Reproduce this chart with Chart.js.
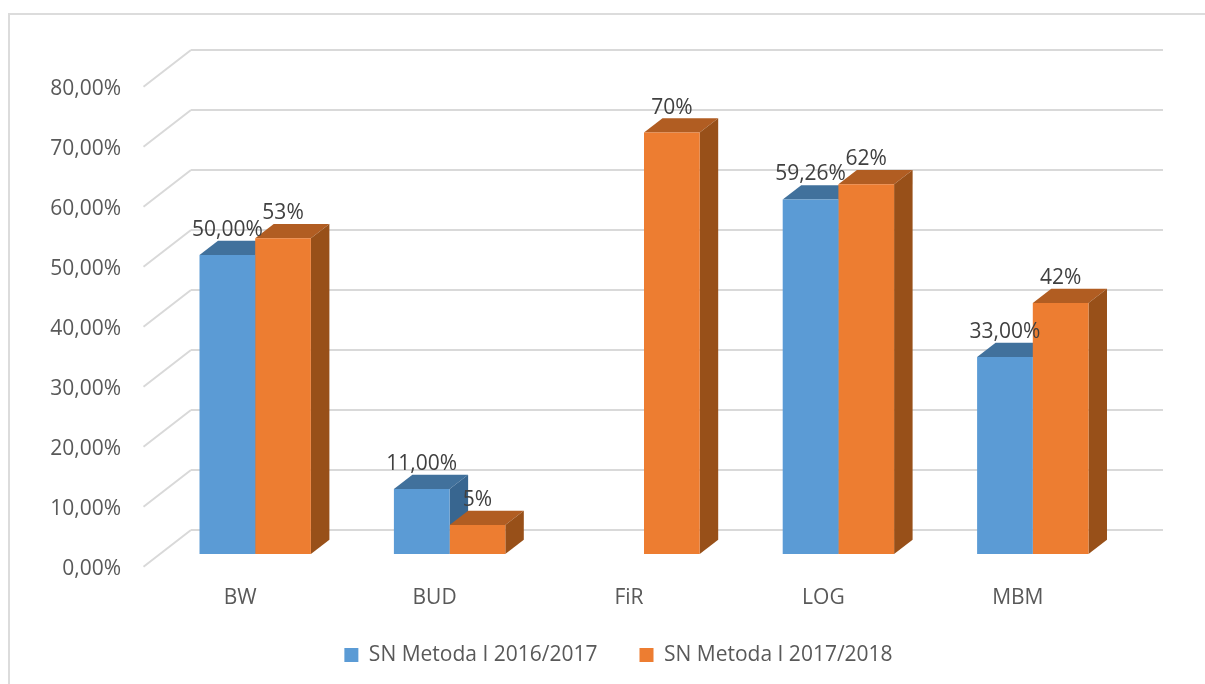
<!DOCTYPE html>
<html>
<head>
<meta charset="utf-8">
<title>SN Metoda I</title>
<script src="https://cdn.jsdelivr.net/npm/chart.js@4"></script>
<style>
    body { margin: 0; background: #fff; }
    #frame { position: absolute; left: 8px; top: 13px; right: 0; bottom: 0; border-left: 2px solid #dcdcdc; border-top: 2px solid #dcdcdc; }
    #chart { position: absolute; left: 0; top: 0; }
</style>
</head>
<body>
<div id="frame"></div>
<canvas id="chart" width="1205" height="684"></canvas>
<script>
const categories = ['BW', 'BUD', 'FiR', 'LOG', 'MBM'];
const series2016 = [50, 11, null, 59.26, 33];
const series2017 = [52.8, 5, 70.4, 61.8, 42];
const seriesNames = ['SN Metoda I 2016/2017', 'SN Metoda I 2017/2018'];

const FONT = '"Open Sans", sans-serif';
const frontColors = ['#5B9BD5', '#ED7D31'];
const topColors = ['#41719C', '#B15D22'];
const sideColors = ['#386690', '#985019'];

// wall corner and bar plane offsets, the 3D look is only painted on
const wallDx = 47.5, wallDy = 36.7;
const barShiftX = -33, barShiftY = 25;
const depthX = 18.5, depthY = 14.3;

function polygon(ctx, color, points) {
    ctx.fillStyle = color;
    ctx.beginPath();
    points.forEach((p, i) => i ? ctx.lineTo(p[0], p[1]) : ctx.moveTo(p[0], p[1]));
    ctx.closePath();
    ctx.fill();
}

function percent2(v) {
    return v.toFixed(2).replace('.', ',') + '%';
}

const labelFormats = [percent2, v => Math.round(v) + '%'];

const fake3d = {
    id: 'fake3d',
    beforeLayout(chart) {
        // legend padding is the item gap too, so keep its box short
        chart.legend.afterFit = function () { this.height = 70; };
    },
    afterLayout(chart) {
        const legend = chart.legend;
        legend.top = 602.5;
        legend.left += 17;
        legend.right += 17;
    },
    beforeDatasetsDraw(chart) {
        const ctx = chart.ctx;
        const left = chart.chartArea.left;
        const yScale = chart.scales.y;

        // left wall lines
        ctx.save();
        ctx.strokeStyle = '#d9d9d9';
        ctx.lineWidth = 2;
        yScale.ticks.forEach(t => {
            const y = yScale.getPixelForValue(t.value);
            ctx.beginPath();
            ctx.moveTo(left - wallDx, y + wallDy);
            ctx.lineTo(left, y);
            ctx.stroke();
        });
        ctx.restore();

        // top and side faces go under all the fronts
        ctx.save();
        ctx.translate(barShiftX, barShiftY);
        chart.data.datasets.forEach((ds, i) => {
            chart.getDatasetMeta(i).data.forEach((bar, j) => {
                if (ds.data[j] === null) return;
                const l = bar.x - bar.width / 2, r = bar.x + bar.width / 2;
                polygon(ctx, topColors[i], [[l, bar.y], [l + depthX, bar.y - depthY], [r + depthX, bar.y - depthY], [r, bar.y]]);
                polygon(ctx, sideColors[i], [[r, bar.y], [r + depthX, bar.y - depthY], [r + depthX, bar.base - depthY], [r, bar.base]]);
            });
        });
        ctx.restore();
    },
    beforeDatasetDraw(chart) {
        chart.ctx.save();
        chart.ctx.translate(barShiftX, barShiftY);
    },
    afterDatasetDraw(chart) {
        chart.ctx.restore();
    },
    afterDatasetsDraw(chart) {
        const ctx = chart.ctx;
        ctx.save();
        ctx.font = '21px ' + FONT;
        ctx.fillStyle = '#404040';
        ctx.textAlign = 'center';
        ctx.textBaseline = 'middle';
        chart.data.datasets.forEach((ds, i) => {
            chart.getDatasetMeta(i).data.forEach((bar, j) => {
                if (ds.data[j] === null) return;
                ctx.fillText(labelFormats[i](ds.data[j]), bar.x + barShiftX, bar.y + barShiftY - 25);
            });
        });
        ctx.restore();
    }
};

new Chart(document.getElementById('chart').getContext('2d'), {
    type: 'bar',
    plugins: [fake3d],
    data: {
        labels: categories,
        datasets: [
            { label: seriesNames[0], data: series2016, backgroundColor: frontColors[0], clip: false },
            { label: seriesNames[1], data: series2017, backgroundColor: frontColors[1], clip: false }
        ]
    },
    options: {
        responsive: false,
        animation: false,
        categoryPercentage: 0.573,
        barPercentage: 1,
        layout: { padding: { left: 40, right: 42, top: 50, bottom: 0 } },
        plugins: {
            legend: {
                position: 'bottom',
                labels: {
                    boxWidth: 14,
                    boxHeight: 14,
                    padding: 42,
                    color: '#595959',
                    font: { family: FONT, size: 21 }
                }
            },
            tooltip: { enabled: false }
        },
        scales: {
            x: {
                grid: { display: false },
                border: { display: false },
                afterFit(scale) { scale.height = 81; },
                ticks: {
                    labelOffset: -48,
                    padding: 47,
                    maxRotation: 0,
                    autoSkip: false,
                    color: '#595959',
                    font: { family: FONT, size: 21 }
                }
            },
            y: {
                min: 0,
                max: 80,
                grid: { color: '#d9d9d9', lineWidth: 2, drawTicks: false },
                border: { display: false },
                afterFit(scale) {
                    scale.width = 151;
                    // tick padding would otherwise push the wall top down
                    scale.paddingTop = 0;
                    scale.paddingBottom = 0;
                },
                ticks: {
                    stepSize: 10,
                    labelOffset: 39,
                    padding: 70,
                    color: '#595959',
                    font: { family: FONT, size: 21 },
                    callback: v => percent2(v)
                }
            }
        }
    }
});
</script>
</body>
</html>
